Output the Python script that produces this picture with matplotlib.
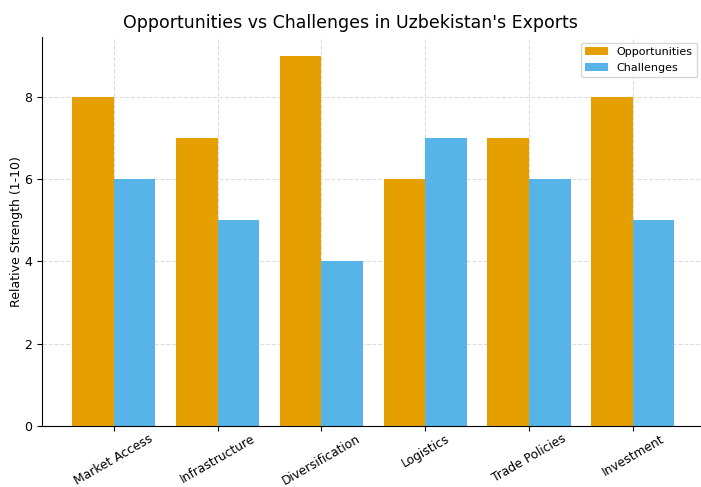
import numpy as np
import matplotlib
matplotlib.use("Agg")
import matplotlib.pyplot as plt

categories = ["Market Access", "Infrastructure", "Diversification", "Logistics", "Trade Policies", "Investment"]
opportunities = [8, 7, 9, 6, 7, 8]
challenges = [6, 5, 4, 7, 6, 5]

x = np.arange(len(categories))
width = 0.4

fig, ax = plt.subplots(figsize=(7.01, 4.87), dpi=100)
fig.subplots_adjust(left=0.06, right=1.005, top=0.924, bottom=0.125)

ax.bar(x - width/2, opportunities, width, label="Opportunities", color="#E69F00")
ax.bar(x + width/2, challenges, width, label="Challenges", color="#56B4E9")

fig.suptitle("Opportunities vs Challenges in Uzbekistan's Exports", fontsize=12.5, x=0.5, y=0.972)
ax.set_ylabel("Relative Strength (1-10)", fontsize=9, labelpad=1)
ax.set_xticks(x)
ax.set_xticklabels(categories, rotation=30, ha="center", fontsize=8.8)
ax.tick_params(axis="x", pad=1)
ax.tick_params(axis="y", labelsize=9)
ax.set_yticks([0, 2, 4, 6, 8])
ax.set_ylim(0, 9.45)
ax.grid(True, linestyle="--", color="#dddddd", linewidth=0.8)
ax.set_axisbelow(True)
for s in ["top", "right"]:
    ax.spines[s].set_visible(False)
ax.legend(loc="upper right", fontsize=8, bbox_to_anchor=(0.997, 1.0))

plt.savefig("out.png", dpi=100)
